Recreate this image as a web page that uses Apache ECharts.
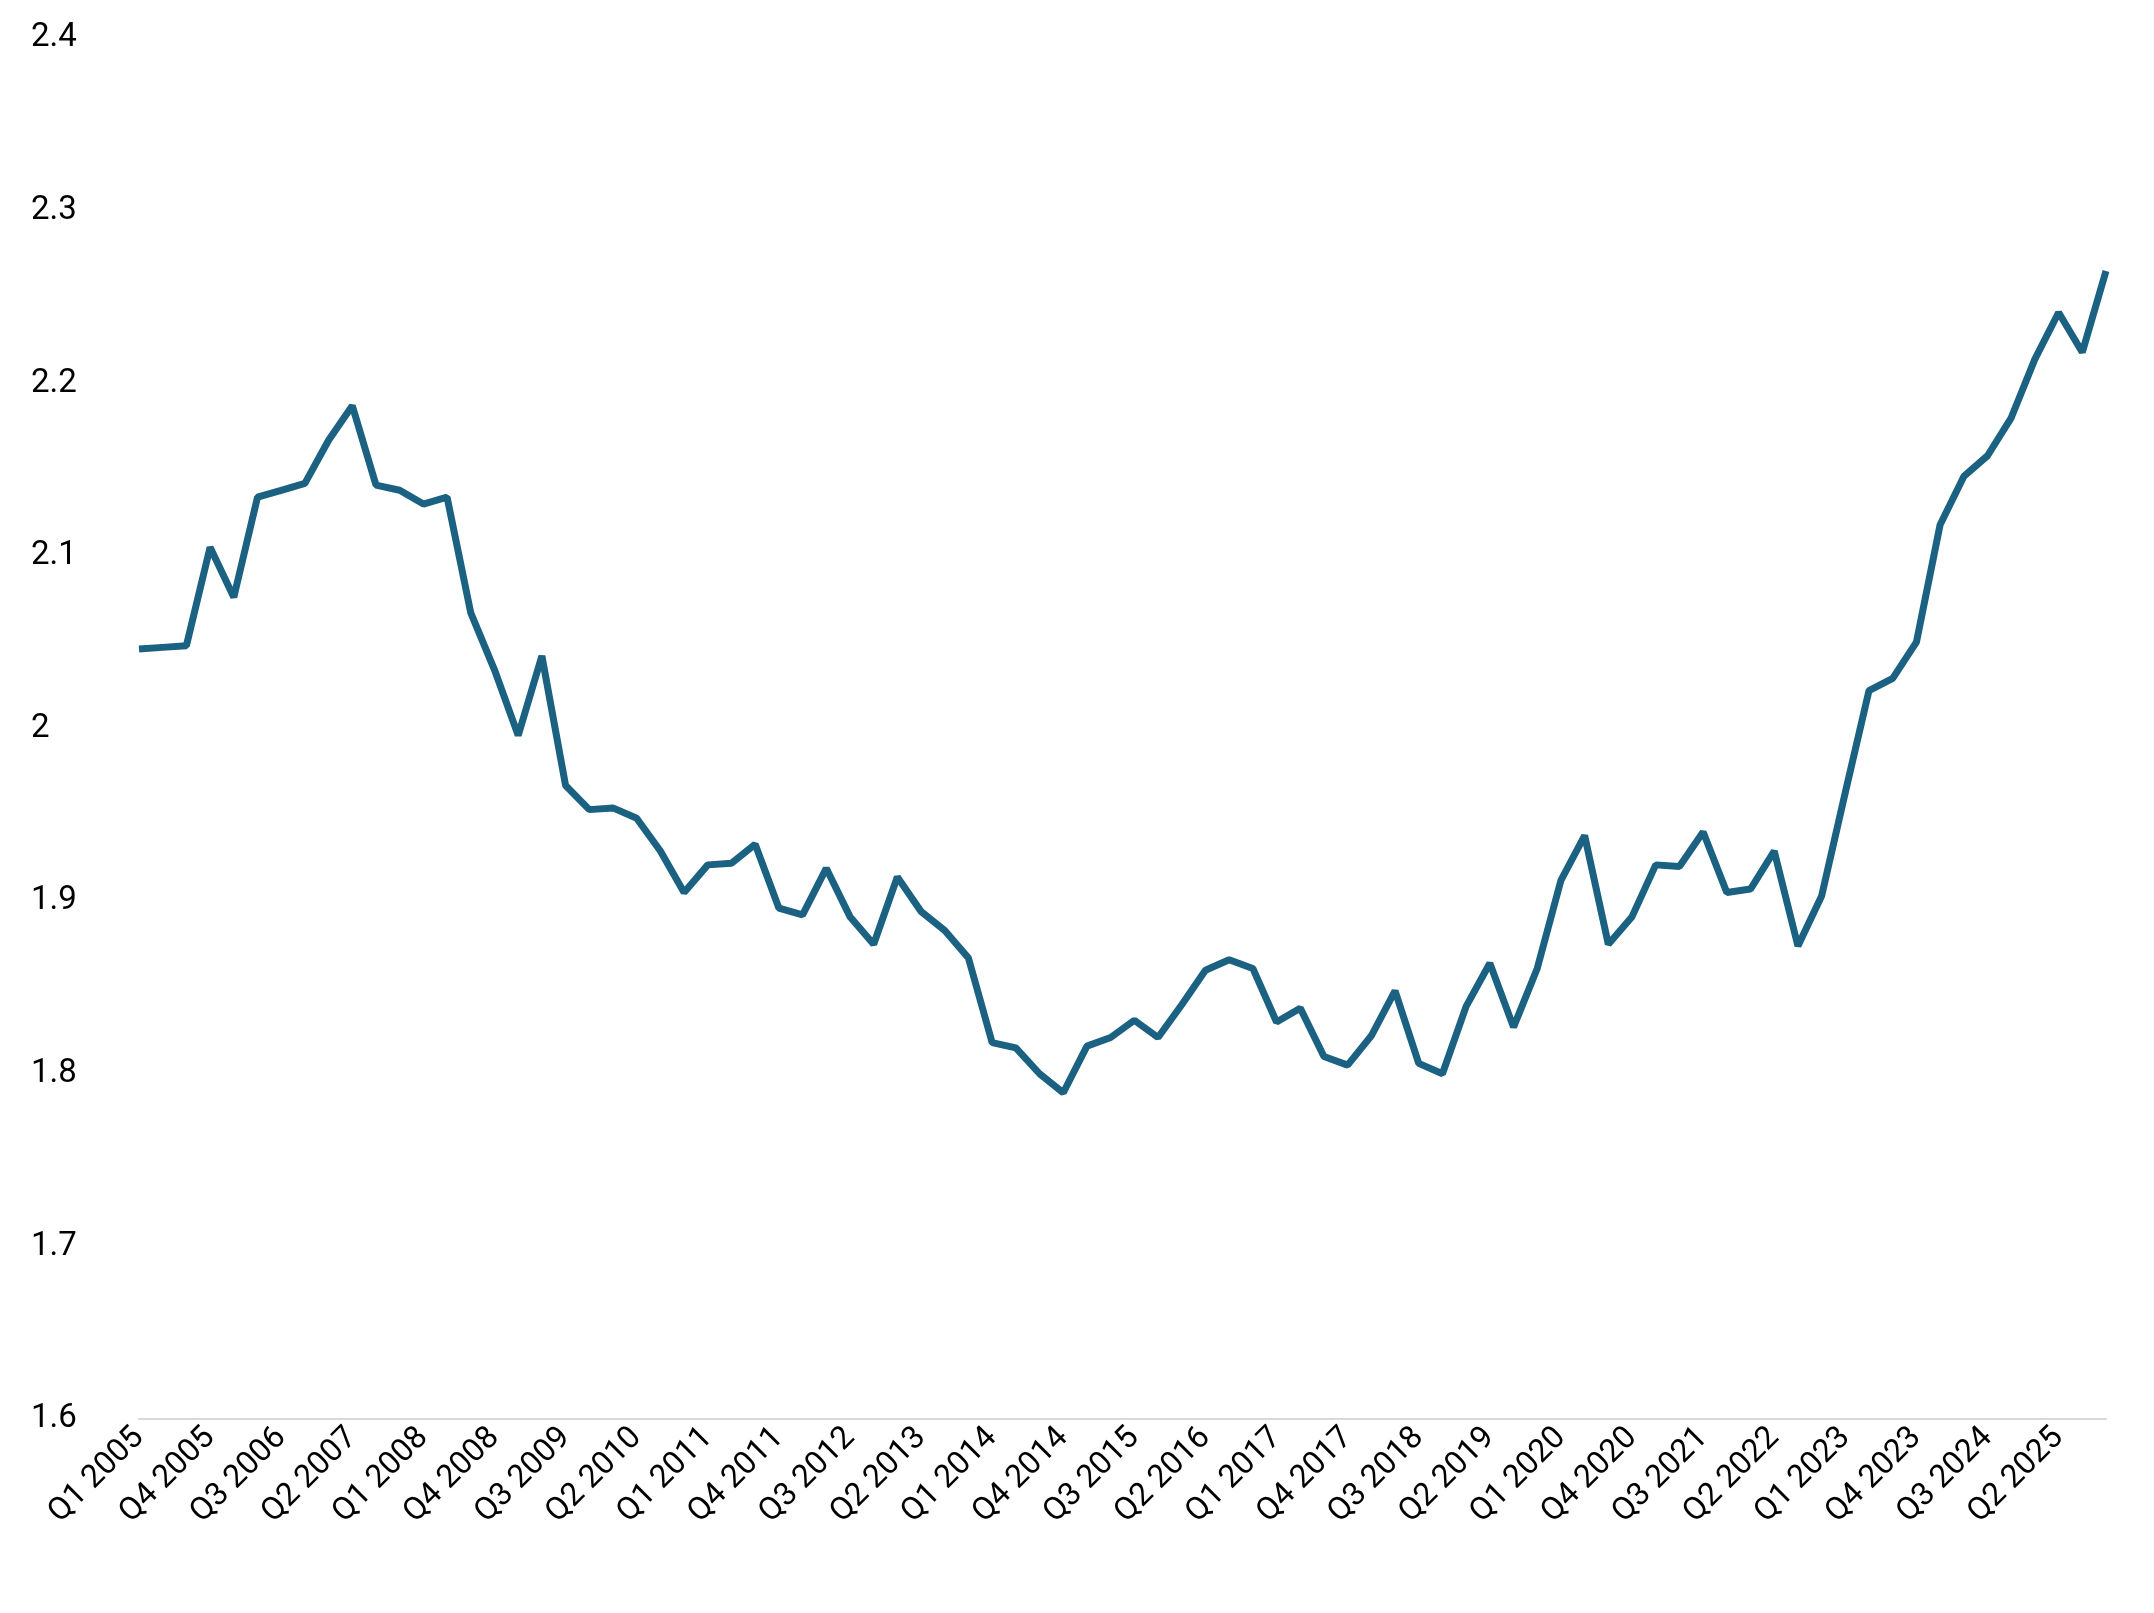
<!DOCTYPE html>
<html><head><meta charset="utf-8">
<script src="https://cdn.jsdelivr.net/npm/echarts@6/dist/echarts.min.js"></script>
<style>html,body{margin:0;padding:0;background:#fff}#c{width:2154px;height:1613px}</style>
</head><body><div id="c"></div>
<script>
const startYear = 2005;
const quarterCount = 84;
const values = [2.046,2.047,2.048,2.105,2.076,2.134,2.138,2.142,2.167,2.187,
2.141,2.138,2.130,2.134,2.067,2.034,1.996,2.042,1.967,1.953,
1.954,1.948,1.929,1.905,1.921,1.922,1.933,1.896,1.892,1.919,
1.891,1.875,1.914,1.894,1.883,1.867,1.818,1.815,1.800,1.789,
1.816,1.821,1.831,1.821,1.840,1.860,1.866,1.861,1.830,1.838,
1.810,1.805,1.822,1.848,1.806,1.800,1.839,1.864,1.827,1.861,
1.912,1.938,1.875,1.891,1.921,1.920,1.940,1.905,1.907,1.929,
1.874,1.903,1.963,2.022,2.029,2.050,2.118,2.146,2.158,2.180,
2.214,2.241,2.218,2.265];
const categories = [];
for (let i = 0; i < quarterCount; i++) categories.push('Q' + (i % 4 + 1) + ' ' + (startYear + Math.floor(i / 4)));
const yMin = 1.6, yMax = 2.4, yStep = 0.1;

const chart = echarts.init(document.getElementById('c'));
chart.setOption({
  animation: false,
  grid: {left: 139, right: 48, top: 38, bottom: 194},
  xAxis: {
    type: 'category', data: categories, boundaryGap: false,
    axisLine: {lineStyle: {color: '#d9d9d9', width: 2}},
    axisTick: {show: false},
    axisLabel: {interval: 2, rotate: 45, fontSize: 32, color: '#000', fontFamily: 'Roboto', margin: 14}
  },
  yAxis: {
    type: 'value', min: yMin, max: yMax, interval: yStep,
    splitLine: {show: false}, axisLine: {show: false}, axisTick: {show: false},
    axisLabel: {fontSize: 33, color: '#000', fontFamily: 'Roboto', align: 'left', margin: 108,
      formatter: v => String(Math.round(v * 10) / 10)}
  },
  series: [{type: 'line', data: values, symbol: 'none',
    lineStyle: {color: '#1b6182', width: 7}}]
});
</script></body></html>
